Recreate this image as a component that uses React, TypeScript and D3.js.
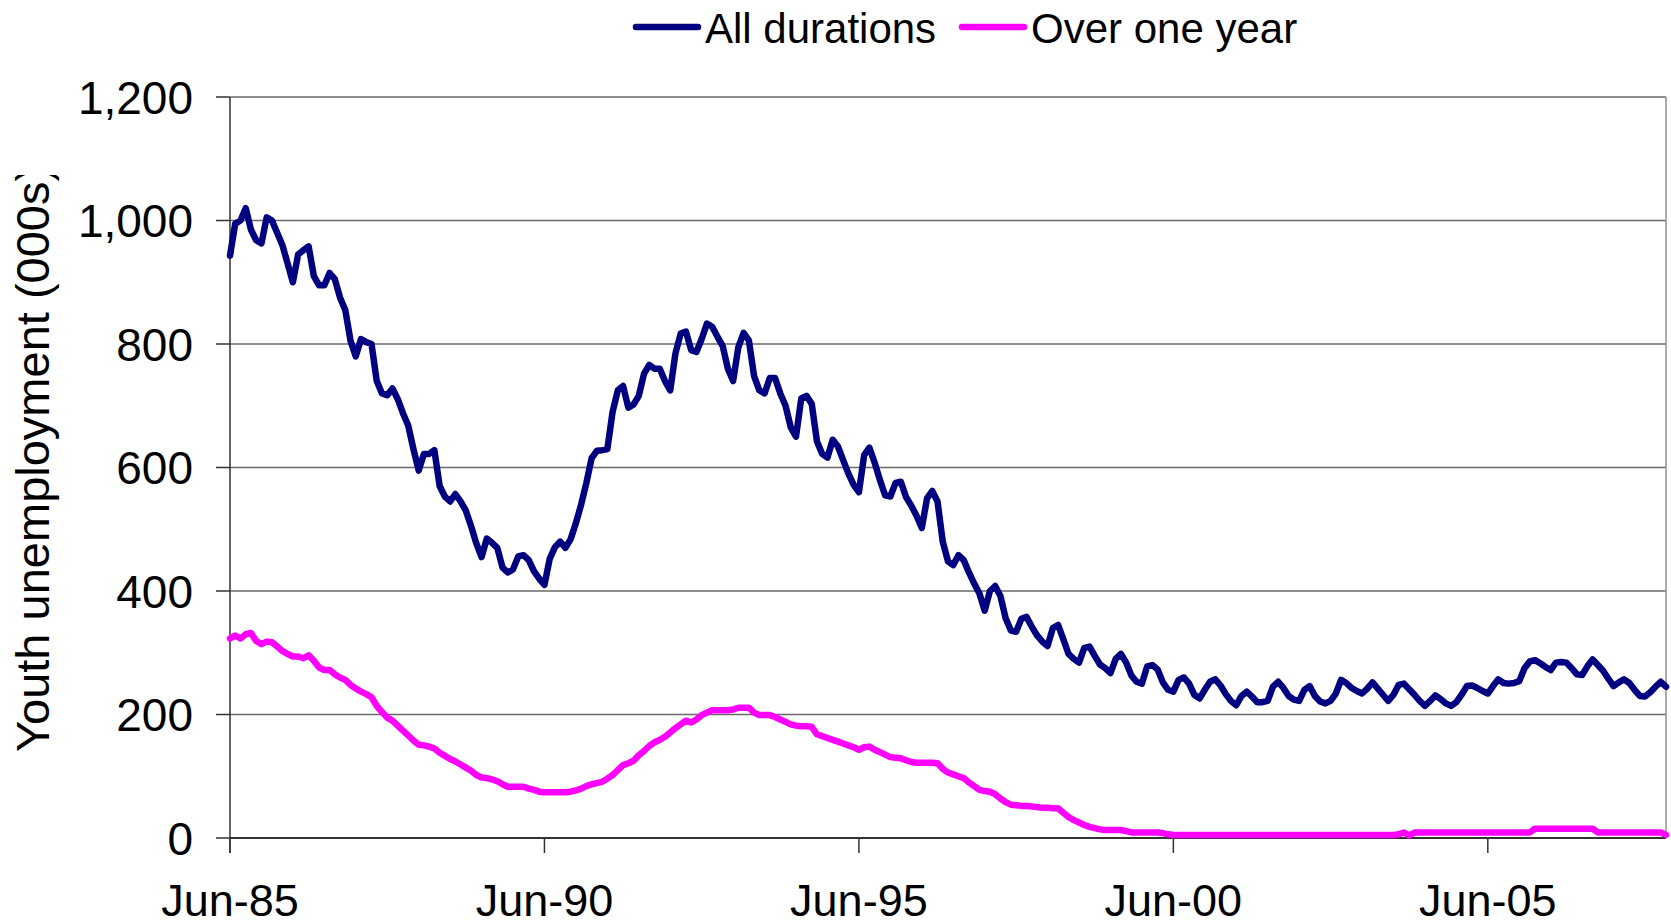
import * as d3 from "d3";
import { useMemo } from "react";

const WIDTH = 1671;
const HEIGHT = 924;
const PLOT = { left: 230, right: 1666, top: 97, bottom: 838 };
const FONT = '"Liberation Sans", Arial, sans-serif';

// monthly values, Jun-85 .. Dec-07 (000s)
const ALL_DURATIONS = [
  943, 995, 1000, 1020, 985, 968, 963, 1005, 1000, 980,
  960, 930, 900, 945, 952, 958, 910, 895, 895, 915,
  905, 875, 855, 805, 780, 808, 803, 800, 740, 720,
  717, 728, 711, 688, 668, 630, 595, 622, 622, 628,
  570, 553, 545, 557, 545, 530, 505, 477, 455, 485,
  478, 470, 438, 430, 435, 456, 458, 450, 432, 420,
  410, 452, 471, 480, 470, 484, 510, 540, 575, 615,
  627, 628, 630, 690, 725, 732, 697, 702, 716, 752,
  766, 760, 760, 740, 725, 785, 817, 820, 790, 787,
  808, 833, 828, 812, 797, 760, 740, 795, 818, 806,
  748, 725, 720, 745, 745, 720, 700, 665, 650, 712,
  716, 703, 642, 622, 616, 645, 634, 612, 590, 572,
  560, 620, 632, 608, 580, 555, 553, 575, 577, 552,
  538, 522, 502, 550, 562, 545, 480, 448, 442, 458,
  450, 430, 412, 396, 368, 400, 408, 392, 356, 336,
  334, 355, 358, 342, 328, 318, 311, 340, 345, 322,
  298, 290, 284, 308, 310, 295, 281, 275, 267, 290,
  298, 284, 263, 253, 250, 278, 280, 273, 252, 240,
  237, 256, 260, 250, 232, 226, 240, 253, 257, 247,
  233, 222, 215, 230, 237, 229, 220, 220, 222, 245,
  253, 243, 230, 224, 222, 240, 246, 230, 221, 218,
  222, 234, 256, 251, 243, 238, 234, 242, 252, 242,
  232, 222, 232, 248, 250, 241, 232, 222, 214, 222,
  231, 225, 218, 214, 220, 232, 246, 247, 243, 238,
  234, 246, 257, 251, 250, 251, 254, 275, 286, 288,
  283, 277, 272, 284, 285, 284, 275, 265, 264, 278,
  289, 280, 271, 258, 246, 252, 257, 251, 240, 230,
  229, 236, 245, 253, 245,
];

const OVER_ONE_YEAR = [
  323, 328, 323, 330, 332, 319, 314, 318, 317, 310,
  303, 298, 294, 294, 291, 296, 287, 276, 272, 272,
  265, 260, 256, 248, 242, 237, 233, 228, 214, 204,
  195, 190, 182, 174, 166, 158, 151, 150, 148, 145,
  138, 133, 128, 124, 119, 114, 109, 102, 98, 97,
  95, 92, 87, 83, 83, 83, 83, 80, 78, 75,
  74, 74, 74, 74, 74, 75, 77, 80, 84, 87,
  89, 91, 96, 102, 110, 118, 121, 125, 134, 141,
  149, 155, 159, 164, 171, 178, 184, 190, 187, 192,
  199, 203, 207, 207, 207, 207, 208, 211, 211, 211,
  203, 199, 199, 199, 196, 192, 188, 184, 182, 181,
  181, 180, 168, 165, 162, 159, 156, 153, 150, 147,
  143, 147, 148, 143, 139, 135, 131, 130, 129, 126,
  123, 122, 122, 122, 122, 121, 112, 106, 103, 100,
  97, 90, 84, 78, 76, 75, 71, 64, 58, 54,
  53, 52, 52, 51, 50, 49, 49, 48, 48, 41,
  34, 29, 25, 21, 18, 16, 14, 13, 13, 13,
  13, 11, 9, 9, 9, 9, 9, 9, 8, 6,
  5, 5, 5, 5, 5, 5, 5, 5, 5, 5,
  5, 5, 5, 5, 5, 5, 5, 5, 5, 5,
  5, 5, 5, 5, 5, 5, 5, 5, 5, 5,
  5, 5, 5, 5, 5, 5, 5, 5, 5, 5,
  5, 5, 5, 6, 9, 4, 9, 9, 9, 9,
  9, 9, 9, 9, 9, 9, 9, 9, 9, 9,
  9, 9, 9, 9, 9, 9, 9, 9, 9, 15,
  15, 15, 15, 15, 15, 15, 15, 15, 15, 15,
  15, 9, 9, 9, 9, 9, 9, 9, 9, 9,
  9, 9, 9, 9, 5,
];

const X_TICKS = ["Jun-85", "Jun-90", "Jun-95", "Jun-00", "Jun-05"];
const MONTHS_PER_TICK = 60;
const Y_TICKS = [0, 200, 400, 600, 800, 1000, 1200];

const SERIES = [
  { name: "All durations", values: ALL_DURATIONS, color: "#000080" },
  { name: "Over one year", values: OVER_ONE_YEAR, color: "#FF00FF" },
];

export default function App() {
  const x = useMemo(
    () =>
      d3
        .scaleLinear()
        .domain([0, ALL_DURATIONS.length - 1])
        .range([PLOT.left, PLOT.right]),
    []
  );
  const y = useMemo(
    () => d3.scaleLinear().domain([0, 1200]).range([PLOT.bottom, PLOT.top]),
    []
  );

  const line = d3
    .line<number>()
    .x((_, i) => x(i))
    .y((d) => y(d));

  return (
    <svg
      width={WIDTH}
      height={HEIGHT}
      style={{ position: "absolute", left: 0, top: 0, background: "#fff" }}
      fontFamily={FONT}
    >
      <defs>
        {/* the original title box cuts the closing bracket */}
        <clipPath id="titleClip">
          <rect x={0} y={175} width={120} height={700} />
        </clipPath>
      </defs>

      {/* grid */}
      {Y_TICKS.filter((t) => t > 0).map((t) => (
        <line
          key={t}
          x1={PLOT.left}
          x2={PLOT.right}
          y1={y(t)}
          y2={y(t)}
          stroke="#6a6a6a"
          strokeWidth={1.5}
        />
      ))}
      <line
        x1={PLOT.right}
        x2={PLOT.right}
        y1={PLOT.top}
        y2={PLOT.bottom}
        stroke="#909090"
        strokeWidth={1.5}
      />

      {/* y axis */}
      <line
        x1={PLOT.left}
        x2={PLOT.left}
        y1={PLOT.top}
        y2={PLOT.bottom + 15}
        stroke="#333"
        strokeWidth={1.5}
      />
      {Y_TICKS.map((t) => (
        <g key={t}>
          <line
            x1={PLOT.left - 14}
            x2={PLOT.left}
            y1={y(t)}
            y2={y(t)}
            stroke="#333"
            strokeWidth={1.5}
          />
          <text
            x={193}
            y={y(t)}
            dy="0.36em"
            textAnchor="end"
            fontSize={46}
            fill="#000"
          >
            {d3.format(",")(t)}
          </text>
        </g>
      ))}

      {/* x axis */}
      <line
        x1={PLOT.left}
        x2={PLOT.right}
        y1={PLOT.bottom}
        y2={PLOT.bottom}
        stroke="#333"
        strokeWidth={2}
      />
      {X_TICKS.map((lab, i) => {
        const xx = x(i * MONTHS_PER_TICK);
        return (
          <g key={lab}>
            <line
              x1={xx}
              x2={xx}
              y1={PLOT.bottom}
              y2={PLOT.bottom + 15}
              stroke="#333"
              strokeWidth={1.5}
            />
            <text x={xx} y={916} textAnchor="middle" fontSize={45} fill="#000">
              {lab}
            </text>
          </g>
        );
      })}

      {/* series */}
      {SERIES.map((s) => (
        <path
          key={s.name}
          d={line(s.values) ?? ""}
          fill="none"
          stroke={s.color}
          strokeWidth={6.5}
          strokeLinejoin="round"
          strokeLinecap="round"
        />
      ))}

      {/* y title */}
      <g clipPath="url(#titleClip)">
        <text
          transform="translate(49, 752) rotate(-90)"
          fontSize={47}
          fill="#000"
        >
          Youth unemployment (000s)
        </text>
      </g>

      {/* legend */}
      {SERIES.map((s, i) => {
        const x0 = i === 0 ? 636 : 962;
        return (
          <g key={s.name}>
            <line
              x1={x0}
              x2={x0 + 62}
              y1={27}
              y2={27}
              stroke={s.color}
              strokeWidth={6.5}
              strokeLinecap="round"
            />
            <text x={x0 + 69} y={43} fontSize={42} fill="#000">
              {s.name}
            </text>
          </g>
        );
      })}
    </svg>
  );
}
